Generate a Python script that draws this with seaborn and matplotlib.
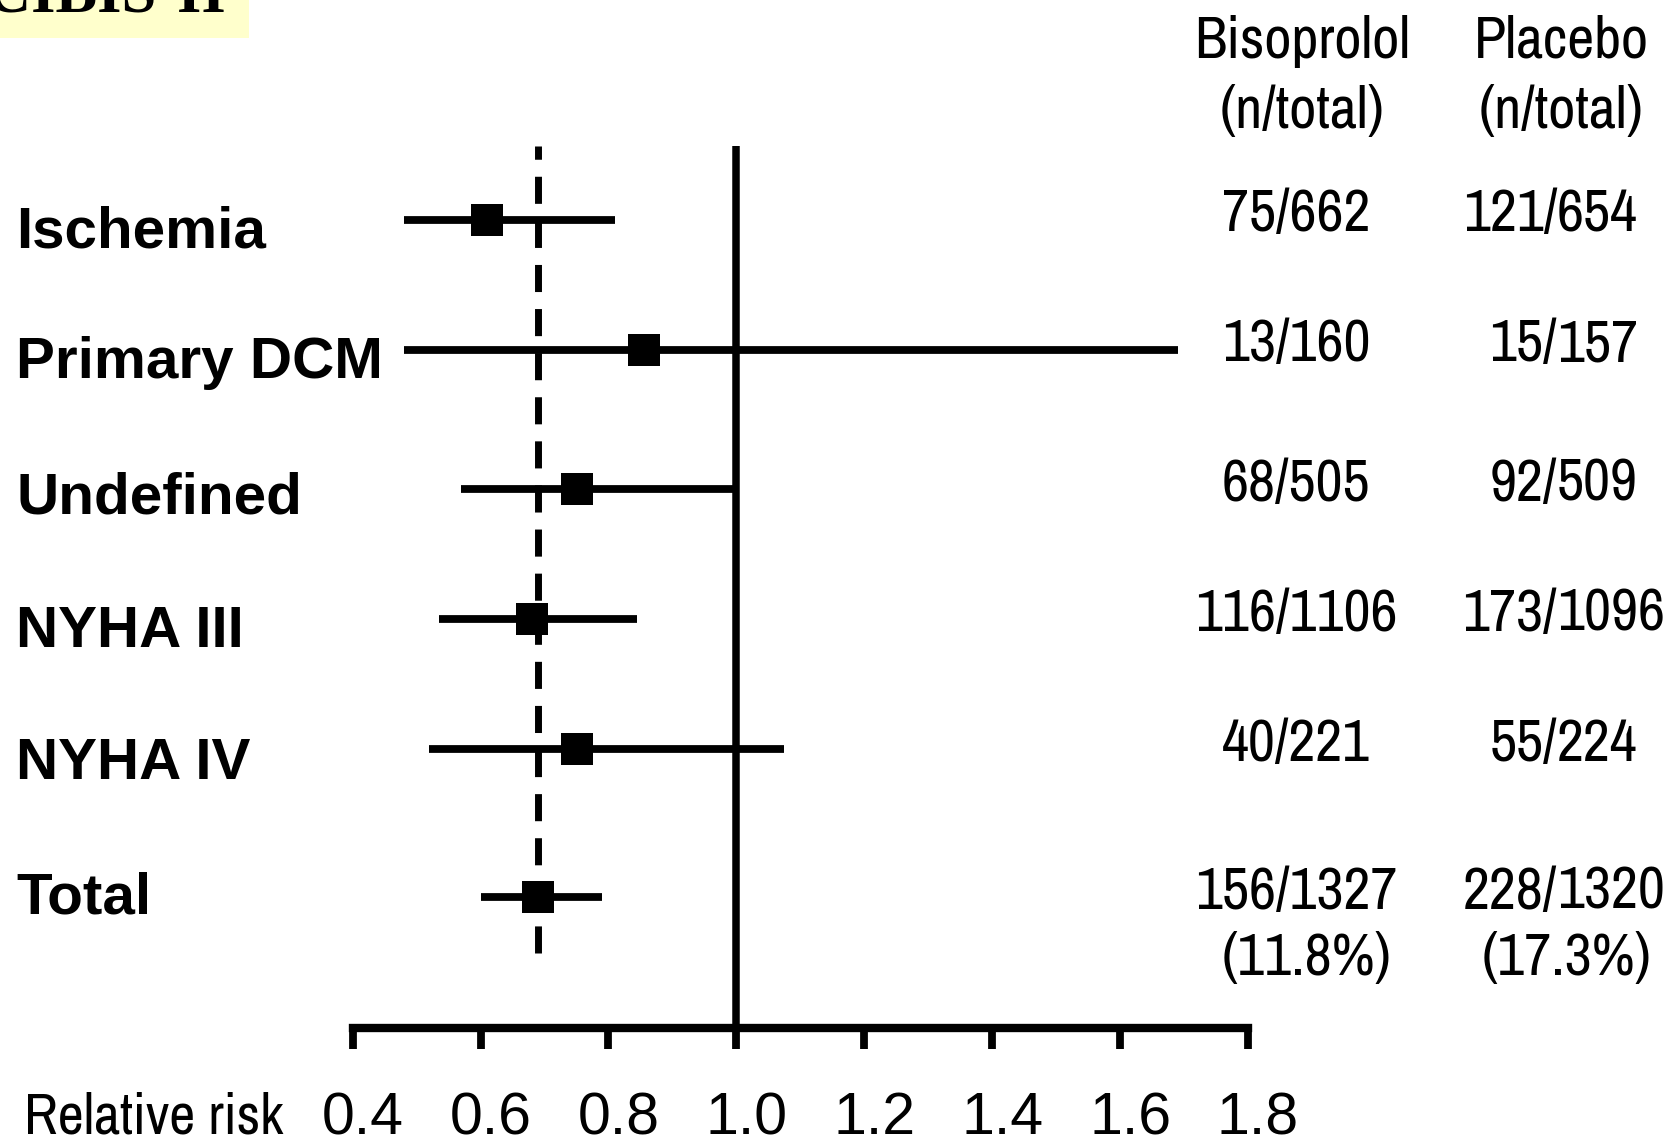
import matplotlib
matplotlib.use("Agg")
import matplotlib.pyplot as plt
import matplotlib.transforms as mtransforms
from matplotlib import font_manager
from matplotlib.patches import Rectangle
import seaborn as sns
import pandas as pd

# ---------------- data ----------------
subgroups = ["Ischemia", "Primary DCM", "Undefined", "NYHA III", "NYHA IV", "Total"]
relative_risk = [0.61, 0.855, 0.75, 0.68, 0.75, 0.69]
ci_low = [0.48, 0.48, 0.57, 0.535, 0.52, 0.60]
ci_high = [0.81, 1.69, 1.00, 0.845, 1.075, 0.79]
bisoprolol = ["75/662", "13/160", "68/505", "116/1106", "40/221", "156/1327"]
placebo = ["121/654", "15/157", "92/509", "173/1096", "55/224", "228/1320"]
bisoprolol_pct = "(11.8%)"
placebo_pct = "(17.3%)"
x_ticks = [0.4, 0.6, 0.8, 1.0, 1.2, 1.4, 1.6, 1.8]
title = "CIBIS-II"
x_label = "Relative risk"
head_biso = ["Bisoprolol", "(n/total)"]
head_plac = ["Placebo", "(n/total)"]

# ---------------- layout ----------------
row_y = [0, 1, 2.07, 3.07, 4.07, 5.21]          # row positions (units of 130 px)
label_dy = [28, 28, 24, 28, 30, 16]             # baseline offsets of row labels (px)
W, H = 1677, 1147

sns.set_theme(style="ticks")
available = {f.name for f in font_manager.fontManager.ttflist}


def pick(cands, fallback):
    for c in cands:
        if c in available:
            return [c, fallback]
    return [fallback]


SANS = pick(["Liberation Sans", "Arimo", "Arial", "Helvetica", "Nimbus Sans"], "DejaVu Sans")
NARROW_FAM = pick(["Liberation Sans Narrow", "Arial Narrow", "Archivo Narrow", "PT Sans Narrow",
                   "Roboto Condensed", "Pragati Narrow", "IBM Plex Sans Condensed",
                   "Sofia Sans Condensed", "Fira Sans Condensed"], "DejaVu Sans")
SERIF = pick(["Liberation Serif", "Tinos", "Times New Roman", "Nimbus Roman"], "DejaVu Serif")
plt.rcParams["font.family"] = SANS
NARROW = dict(family=NARROW_FAM)

fig = plt.figure(figsize=(W / 100, H / 100), dpi=100)
fig.patch.set_facecolor("white")
ax_left, ax_right, ax_top, ax_bot = 352.7, 1248.0, 146.0, 1027.5
ax = fig.add_axes([ax_left / W, 1 - ax_bot / H, (ax_right - ax_left) / W, (ax_bot - ax_top) / H])
ax.set_facecolor("none")

df = pd.DataFrame({"subgroup": subgroups, "rr": relative_risk,
                   "lo": ci_low, "hi": ci_high, "row": row_y})

ax.set_xlim(0.4, 1.8)
ax.set_ylim((ax_bot - 220) / 130, (ax_top - 220) / 130)

# reference lines
ax.axvline(1.0, color="black", lw=5.4, solid_capstyle="butt", zorder=2)
ax.axvline(relative_risk[-1], ymin=(ax_bot - 953) / (ax_bot - ax_top), ymax=1,
           color="black", lw=5.0, linestyle=(0, (3.9, 2.45)), dash_capstyle="butt", zorder=2)

# CIs and point estimates
ax.hlines(df["row"], df["lo"], df["hi"], color="black", lw=5.6, capstyle="butt", zorder=3)
sns.scatterplot(data=df, x="rr", y="row", marker="s", s=520, color="black",
                linewidth=0, ax=ax, legend=False, zorder=4)
ax.set_xlabel("")
ax.set_ylabel("")

# axes styling
sns.despine(ax=ax, left=True)
ax.spines["bottom"].set_linewidth(6)
ax.spines["bottom"].set_color("black")
ax.spines["bottom"].set_capstyle("projecting")
ax.set_yticks([])
ax.set_xticks(x_ticks)
ax.set_xticklabels([f"{t:.1f}" for t in x_ticks])
ax.tick_params(axis="x", length=15, width=5.6, pad=31, labelsize=42.5,
               color="black", labelcolor="black", direction="out")
shift = mtransforms.ScaledTranslation(10 / 100, 0, fig.dpi_scale_trans)
for t in ax.get_xticklabels():
    t.set_family(SANS)
    t.set_transform(t.get_transform() + shift)
ax.grid(False)

# row labels (bold, left)
blend = mtransforms.blended_transform_factory(fig.transFigure, ax.transData)
num_tr = mtransforms.offset_copy(blend, fig=fig, x=0, y=-11.5, units="dots")
pct_tr = mtransforms.offset_copy(blend, fig=fig, x=0, y=-77.5, units="dots")
for lab, yy, dy in zip(subgroups, row_y, label_dy):
    tr = mtransforms.offset_copy(blend, fig=fig, x=0, y=-dy, units="dots")
    ax.text(16 / W, yy, lab, transform=tr, fontsize=42, fontweight="bold",
            family=SANS, ha="left", va="baseline", color="black")

# n/total columns
biso_x = 1296 / W
slash_x = 1557 / W
for b, p, yy in zip(bisoprolol, placebo, row_y):
    ax.text(biso_x, yy, b, transform=num_tr, fontsize=42.5, ha="center",
            va="baseline", color="black", **NARROW)
    num, den = p.split("/")
    ax.text(slash_x, yy, num + "/", transform=num_tr, fontsize=42.5, ha="right",
            va="baseline", color="black", **NARROW)
    ax.text(slash_x, yy, den, transform=num_tr, fontsize=42.5, ha="left",
            va="baseline", color="black", **NARROW)
ax.text(1307 / W, row_y[-1], bisoprolol_pct, transform=pct_tr, fontsize=42.5,
        ha="center", va="baseline", color="black", **NARROW)
ax.text(1567 / W, row_y[-1], placebo_pct, transform=pct_tr, fontsize=42.5,
        ha="center", va="baseline", color="black", **NARROW)

# headers
for txt, yb in zip(head_biso, [58, 128]):
    fig.text(1302 / W, 1 - yb / H, txt, fontsize=42.5, ha="center", va="baseline",
             color="black", **NARROW)
for txt, yb in zip(head_plac, [58, 128]):
    fig.text(1561 / W, 1 - yb / H, txt, fontsize=42.5, ha="center", va="baseline",
             color="black", **NARROW)

# x label
fig.text(24 / W, 1 - 1134 / H, x_label, fontsize=41, ha="left", va="baseline",
         color="black", **NARROW)

# cropped title with yellow background
fig.patches.append(Rectangle((0, 1 - 38 / H), 249 / W, 38 / H, transform=fig.transFigure,
                             facecolor="#FFFFCC", edgecolor="none", zorder=0))
fig.text(-14 / W, 1 - 12 / H, title, fontsize=45, fontweight="bold",
         family=SERIF, ha="left", va="baseline", color="black", zorder=1)

fig.savefig("out.png", dpi=100)
